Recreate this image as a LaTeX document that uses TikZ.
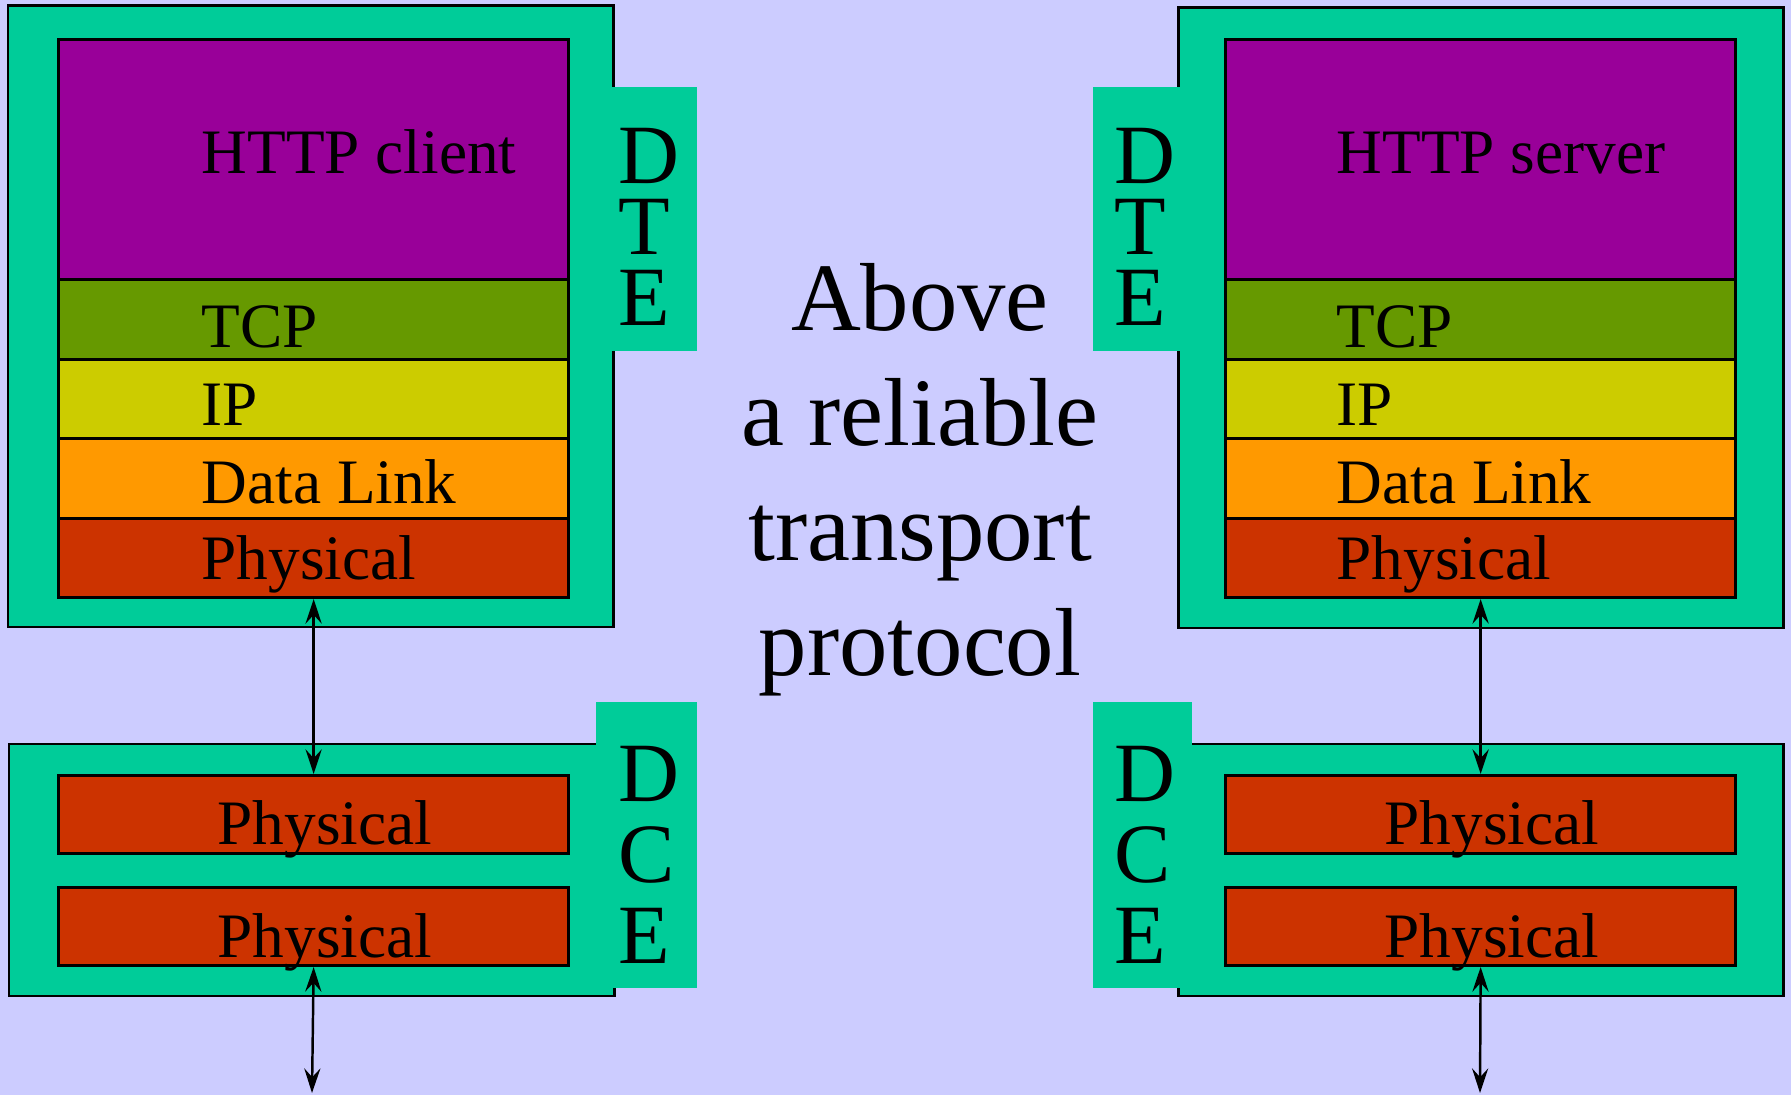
\documentclass[tikz,border=0pt]{standalone}
\usepackage{fontspec}
\setmainfont{Liberation Serif}
\usetikzlibrary{arrows.meta}
\definecolor{bgc}{HTML}{CCCCFF}
\definecolor{grn}{HTML}{00CC99}
\definecolor{purp}{HTML}{990099}
\definecolor{tcpc}{HTML}{669900}
\definecolor{ipc}{HTML}{CCCC00}
\definecolor{dlc}{HTML}{FF9900}
\definecolor{phc}{HTML}{CC3300}
\begin{document}
\begin{tikzpicture}[x=0.01cm, y=-0.01cm,
	box/.style={draw, line width=0.85pt, inner sep=0pt, anchor=north west, minimum width=5.1cm},
	lbl/.style={anchor=base west, inner sep=0pt, font=\fontsize{18}{20}\selectfont},
	tabtext/.style={anchor=base west, inner sep=0pt, align=left},
	link/.style={line width=0.7pt,
		{Stealth[length=7pt, width=4.6pt, inset=2.5pt]}-{Stealth[length=7pt, width=4.6pt, inset=2.5pt]}}]
\fill[bgc] (0,0) rectangle (1791,1095);
\useasboundingbox (0,0) rectangle (1791,1095);
% outer boxes
\draw[fill=grn, line width=0.85pt] (8,6) rectangle (613,627);
\draw[fill=grn, line width=0.85pt] (1178,8) rectangle (1783,628);
\draw[fill=grn, line width=0.85pt] (9,744) rectangle (614,996);
\draw[fill=grn, line width=0.85pt] (1178,744) rectangle (1783,996);
% tabs
\fill[grn] (611,87) rectangle (697,351);
\fill[grn] (1093,87) rectangle (1180,351);
\fill[grn] (596,702) rectangle (697,988);
\fill[grn] (1093,702) rectangle (1192,988);
% DTE stacks
\foreach \s/\bx/\tx/\app in {l/57/201/client, r/1224/1336/server}
	\foreach \n/\c/\y/\h/\b/\t in {http/purp/38/2.4/174/HTTP \app,
		tcp/tcpc/278/0.8/348/TCP, ip/ipc/358/0.79/426/IP,
		dl/dlc/437/0.8/504/Data Link, phys/phc/517/0.79/580/Physical} {
	\node[box, fill=\c, minimum height=\h cm] (\s\n) at (\bx,\y) {};
	\node[lbl] (\s\n txt) at (\tx,\b) {\t};
}
% DCE stacks
\foreach \s/\bx/\tx in {l/57/217, r/1224/1384}
	\foreach \i/\y/\b in {1/774/845, 2/886/957} {
	\node[box, fill=phc, minimum height=0.78cm] (\s dce\i) at (\bx,\y) {};
	\node[lbl] (\s dce\i txt) at (\tx,\b) {Physical};
}
% side labels (base = last line)
\node[tabtext, font=\fontsize{24}{20.3}\selectfont] (ldte) at (618,326) {D\\T\\E};
\node[tabtext, font=\fontsize{24}{20.3}\selectfont] (rdte) at (1114,326) {D\\T\\E};
\node[tabtext, font=\fontsize{24}{23}\selectfont] (ldce) at (618,963) {D\\C\\E};
\node[tabtext, font=\fontsize{24}{23}\selectfont] (rdce) at (1114,963) {D\\C\\E};
\node[align=center, inner sep=0pt, font=\fontsize{27.5}{32.7}\selectfont] (above)
	at (920,480) {Above\\a reliable\\transport\\protocol};
% links
\coordinate (lend) at (312,1093);
\coordinate (rend) at (1480,1093);
\draw[link] (lphys.south) -- (ldce1.north);
\draw[link] (ldce2.south) -- (lend);
\draw[link] (rphys.south) -- (rdce1.north);
\draw[link] (rdce2.south) -- (rend);
\end{tikzpicture}
\end{document}
